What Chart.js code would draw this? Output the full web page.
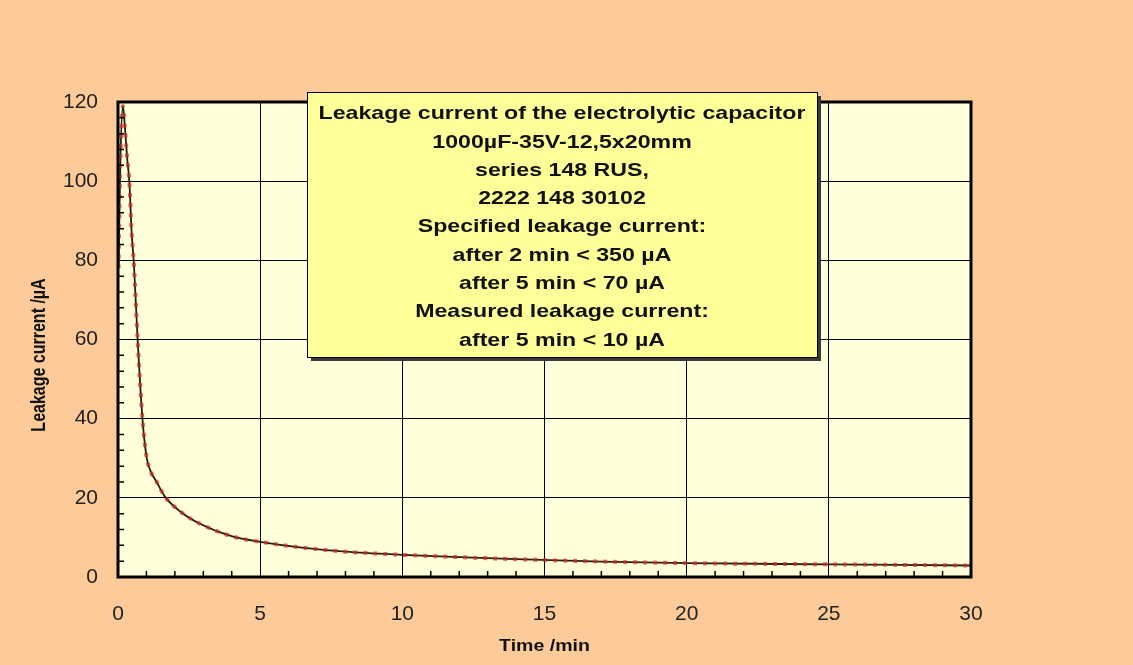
<!DOCTYPE html>
<html>
<head>
<meta charset="utf-8">
<script src="https://cdn.jsdelivr.net/npm/chart.js@4"></script>
<style>
  body { margin: 0; background: #fccb99; }
  #wrap { width: 1133px; height: 665px; position: relative; }
</style>
</head>
<body>
<div id="wrap"><canvas id="chart"></canvas></div>
<script>
// measured curve
const timeMin = [0.02, 0.08, 0.17, 0.25, 0.32, 0.40, 0.48, 0.56, 0.69, 0.86, 1.0, 1.13, 1.36, 1.65, 2.2, 2.9, 4.05, 5, 6.4, 8, 10, 12, 14, 17, 20, 25, 30];
const leakageUA = [78, 104, 119, 113, 106, 99.7, 87, 79, 60, 40, 30.5, 27, 24, 20.3, 16.5, 13.4, 10.2, 8.9, 7.5, 6.4, 5.6, 5.0, 4.5, 3.9, 3.5, 3.2, 2.9];

const xTicks = [0, 5, 10, 15, 20, 25, 30];
const yTicks = [0, 20, 40, 60, 80, 100, 120];

const xTitle = 'Time /min';
const yTitle = 'Leakage current /µA';
const noteLines = [
  'Leakage current of the electrolytic capacitor',
  '1000µF-35V-12,5x20mm',
  'series 148 RUS,',
  '2222 148 30102',
  'Specified leakage current:',
  'after 2 min < 350 µA',
  'after 5 min < 70 µA',
  'Measured leakage current:',
  'after 5 min < 10 µA'
];

const FONT = '"Liberation Sans", Arial, sans-serif';
const STRETCH = 1.22; // the original picture is wider than tall
const points = timeMin.map((t, i) => ({ x: t, y: leakageUA[i] }));

function wideText(ctx, text, x, y, rot) {
  ctx.save();
  ctx.translate(x, y);
  if (rot) {
    ctx.rotate(-Math.PI / 2);
    ctx.scale(1, STRETCH);
  } else {
    ctx.scale(STRETCH, 1);
  }
  ctx.fillText(text, 0, 0);
  ctx.restore();
}

const plotBg = {
  id: 'plotBg',
  beforeDraw(chart) {
    const { ctx, chartArea: a } = chart;
    ctx.save();
    ctx.fillStyle = '#fccb99';
    ctx.fillRect(0, 0, chart.width, chart.height);
    ctx.fillStyle = '#ffffd9';
    ctx.fillRect(a.left, a.top, a.right - a.left, a.bottom - a.top);
    ctx.restore();
  }
};

const frameAndNote = {
  id: 'frameAndNote',
  afterDraw(chart) {
    const { ctx, chartArea: a } = chart;
    const xs = chart.scales.x, ys = chart.scales.y;
    ctx.save();
    // minor ticks, inside
    ctx.strokeStyle = '#000';
    ctx.lineWidth = 1.5;
    ctx.beginPath();
    for (let t = 1; t < 30; t++) {
      if (t % 5 === 0) continue;
      const px = xs.getPixelForValue(t);
      ctx.moveTo(px, a.bottom);
      ctx.lineTo(px, a.bottom - 6);
    }
    for (let v = 4; v < 120; v += 4) {
      if (v % 20 === 0) continue;
      const py = ys.getPixelForValue(v);
      ctx.moveTo(a.left, py);
      ctx.lineTo(a.left + 6, py);
    }
    ctx.stroke();
    // frame
    ctx.lineWidth = 3;
    ctx.strokeRect(a.left, a.top, a.right - a.left, a.bottom - a.top);

    // axis titles
    ctx.fillStyle = '#111';
    ctx.textAlign = 'center';
    ctx.textBaseline = 'middle';
    ctx.font = 'bold 16px ' + FONT;
    wideText(ctx, xTitle, (a.left + a.right) / 2, 647, false);
    wideText(ctx, yTitle, 40, 355, true);

    // note box
    const bx = 307, by = 92, bw = 510, bh = 265;
    ctx.fillStyle = '#3a3a3a';
    ctx.fillRect(bx + 4, by + 4, bw, bh);
    ctx.fillStyle = '#ffff99';
    ctx.fillRect(bx, by, bw, bh);
    ctx.lineWidth = 1;
    ctx.strokeStyle = '#000';
    ctx.strokeRect(bx + 0.5, by + 0.5, bw, bh);
    ctx.fillStyle = '#111';
    ctx.font = 'bold 19px ' + FONT;
    noteLines.forEach((line, i) => {
      wideText(ctx, line, bx + bw / 2, 114 + i * 28.3, false);
    });
    ctx.restore();
  }
};

new Chart(document.getElementById('chart'), {
  type: 'line',
  data: {
    datasets: [
      {
        data: points,
        borderColor: 'rgba(200, 50, 40, 0.7)',
        borderWidth: 4,
        borderDash: [4, 6],
        pointRadius: 0,
        cubicInterpolationMode: 'monotone'
      },
      {
        data: points,
        borderColor: '#2a1a10',
        borderWidth: 1.8,
        pointRadius: 0,
        cubicInterpolationMode: 'monotone'
      }
    ]
  },
  options: {
    responsive: true,
    maintainAspectRatio: false,
    animation: false,
    events: [],
    layout: { padding: { left: 0, top: 102, right: 162, bottom: 0 } },
    plugins: { legend: { display: false }, tooltip: { enabled: false } },
    scales: {
      x: {
        type: 'linear',
        min: 0,
        max: 30,
        afterFit(s) { s.height = 88; },
        afterBuildTicks(s) { s.ticks = xTicks.map(v => ({ value: v })); },
        border: { display: false },
        grid: { color: '#000', lineWidth: 1, drawTicks: false },
        ticks: { padding: 25, color: '#222', font: { family: FONT, size: 21 } }
      },
      y: {
        min: 0,
        max: 120,
        afterFit(s) { s.width = 118; },
        afterBuildTicks(s) { s.ticks = yTicks.map(v => ({ value: v })); },
        border: { display: false },
        grid: { color: '#000', lineWidth: 1, drawTicks: false },
        ticks: { padding: 20, color: '#222', font: { family: FONT, size: 21 } }
      }
    }
  },
  plugins: [plotBg, frameAndNote]
});
</script>
</body>
</html>
